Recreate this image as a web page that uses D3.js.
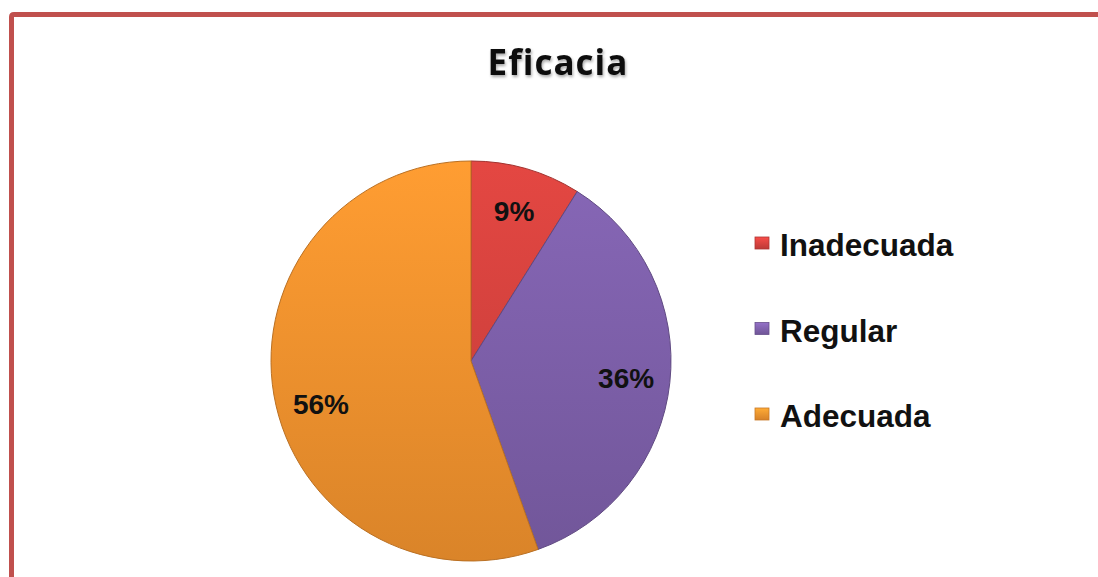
<!DOCTYPE html>
<html>
<head>
<meta charset="utf-8">
<script src="https://cdn.jsdelivr.net/npm/d3@7"></script>
<style>
  body { margin: 0; background: #fff; }
  svg { display: block; }
</style>
</head>
<body>
<script>
// Data.
var categories = ["Inadecuada", "Regular", "Adecuada"],
  values = [9, 36, 56],
  labels = ["9%", "36%", "56%"];

// Configuration parameters.
var width = 1098,
  height = 577,
  cx = 471,
  cy = 361,
  radius = 200,
  labelRadius = 156,
  frameColor = "#c0504d",
  colors = ["#d8433f", "#8062ad", "#f7952f"],
  // Excel nudges the big slice label off its centroid (degrees).
  labelShift = {"Adecuada": -6};

var svg = d3.select("body").append("svg")
    .attr("width", width)
    .attr("height", height);

var defs = svg.append("defs");

// Gradients: lighter at the top, darker at the bottom.
colors.forEach(function(c, i) {
  var g = defs.append("linearGradient")
      .attr("id", "grad" + i)
      .attr("gradientUnits", "userSpaceOnUse")
      .attr("x1", 0).attr("y1", -radius)
      .attr("x2", 0).attr("y2", radius);
  g.append("stop").attr("offset", "0%").attr("stop-color", d3.rgb(c).brighter(0.15));
  g.append("stop").attr("offset", "100%").attr("stop-color", d3.rgb(c).darker(0.35));

  var m = defs.append("linearGradient")
      .attr("id", "mark" + i)
      .attr("x1", 0).attr("y1", 0).attr("x2", 0).attr("y2", 1);
  m.append("stop").attr("offset", "0%").attr("stop-color", d3.rgb(c).brighter(0.4));
  m.append("stop").attr("offset", "100%").attr("stop-color", d3.rgb(c).darker(0.4));
});

var shadow = defs.append("filter").attr("id", "tshadow")
    .attr("x", "-10%").attr("y", "-20%").attr("width", "130%").attr("height", "150%");
shadow.append("feDropShadow")
    .attr("dx", 1).attr("dy", 2).attr("stdDeviation", 1.5)
    .attr("flood-color", "#000").attr("flood-opacity", 0.35);

// Frame (top and left edges visible).
svg.append("path")
    .attr("d", "M" + 11.5 + "," + height + "V" + 17 + "Q11.5,14.5 14,14.5H" + width)
    .attr("fill", "none")
    .attr("stroke", frameColor)
    .attr("stroke-width", 5);

// Title.
svg.append("text")
    .attr("x", 558)
    .attr("y", 75)
    .attr("text-anchor", "middle")
    .attr("filter", "url(#tshadow)")
    .style("font-family", '"Open Sans", sans-serif')
    .style("font-weight", 700)
    .style("font-size", "35px")
    .style("letter-spacing", "1px")
    .style("fill", "#111")
    .text("Eficacia");

// Pie.
var pie = d3.pie().sort(null),
  arcs = pie(values),
  arc = d3.arc().innerRadius(0).outerRadius(radius),
  labelArc = d3.arc().innerRadius(labelRadius).outerRadius(labelRadius);

var g = svg.append("g")
    .attr("transform", "translate(" + cx + "," + cy + ")");

g.selectAll("path")
    .data(arcs)
  .enter().append("path")
    .attr("d", arc)
    .attr("fill", function(d, i) { return "url(#grad" + i + ")"; })
    .attr("stroke", function(d, i) { return d3.rgb(colors[i]).darker(0.8); })
    .attr("stroke-width", 1)
    .attr("stroke-linejoin", "round");

g.selectAll("text")
    .data(arcs)
  .enter().append("text")
    .attr("transform", function(d, i) {
      var a = (d.startAngle + d.endAngle) / 2 + (labelShift[categories[i]] || 0) * Math.PI / 180;
      var p = labelArc.centroid({startAngle: a, endAngle: a});
      return "translate(" + p[0] + "," + p[1] + ")";
    })
    .attr("text-anchor", "middle")
    .attr("dy", "0.36em")
    .style("font-family", '"Liberation Sans", Arial, sans-serif')
    .style("font-weight", 700)
    .style("font-size", "28px")
    .style("fill", "#111")
    .text(function(d, i) { return labels[i]; });

// Legend.
var legendY = d3.scalePoint()
    .domain(categories)
    .range([256, 427]);

var legend = svg.append("g").selectAll("g")
    .data(categories)
  .enter().append("g")
    .attr("transform", function(d) { return "translate(755," + legendY(d) + ")"; });

legend.append("rect")
    .attr("x", 0)
    .attr("y", -19)
    .attr("width", 14)
    .attr("height", 12)
    .attr("fill", function(d, i) { return "url(#mark" + i + ")"; })
    .attr("stroke", function(d, i) { return d3.rgb(colors[i]).darker(0.6); })
    .attr("stroke-width", 0.8);

legend.append("text")
    .attr("x", 25)
    .attr("y", 0)
    .style("font-family", '"Liberation Sans", Arial, sans-serif')
    .style("font-weight", 700)
    .style("font-size", "31.5px")
    .style("fill", "#111")
    .text(function(d) { return d; });
</script>
</body>
</html>
